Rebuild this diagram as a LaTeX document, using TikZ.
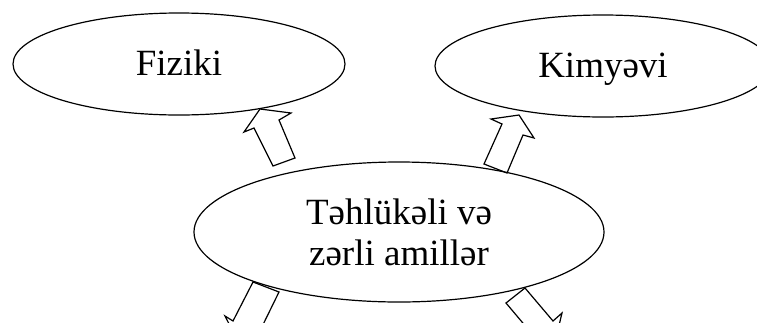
\documentclass[tikz,border=0pt]{standalone}
\usepackage{fontspec}
\setmainfont{Liberation Serif}
\usetikzlibrary{shapes.geometric}
\tikzset{
  ell/.style={ellipse, draw, line width=1.2pt, inner sep=0pt, align=center,
    font=\fontsize{37}{41}\selectfont},
  blockarrow/.style={draw, line width=1.2pt, line join=miter},
}
\begin{document}
\begin{tikzpicture}[x=1pt,y=-1pt]
\useasboundingbox (0,0) rectangle (757,322);
\clip (0,0) rectangle (757,322);
\node[ell, minimum width=332pt, minimum height=102pt, text height=22pt, text depth=0pt] (fiz) at (179,64) {Fiziki};
\node[ell, minimum width=336pt, minimum height=102pt, text height=22pt, text depth=0pt] (kim) at (603,66) {Kimyəvi};
\node[ell, minimum width=410pt, minimum height=140pt] (cen) at (399,232) {Təhlükəli və\\zərli amillər};
% block arrows
\draw[blockarrow] (260,109) -- (291,113) -- (279,120) -- (295,158) -- (273,166) -- (254,128) -- (244,132) -- cycle;
\draw[blockarrow] (519,115) -- (534,138) -- (523,135) -- (507,173) -- (484,164) -- (502,124) -- (491,119) -- cycle;
\draw[blockarrow] (253,282) -- (279,292) -- (259.7,331.4) -- (267.8,335.4) -- (238.5,342.4) -- (225,316) -- (233,321) -- cycle;
\draw[blockarrow] (506,303) -- (525,288) -- (553,321) -- (562,313) -- (555,342) -- (527,341.9) -- (533.9,336.1) -- cycle;
\end{tikzpicture}
\end{document}
